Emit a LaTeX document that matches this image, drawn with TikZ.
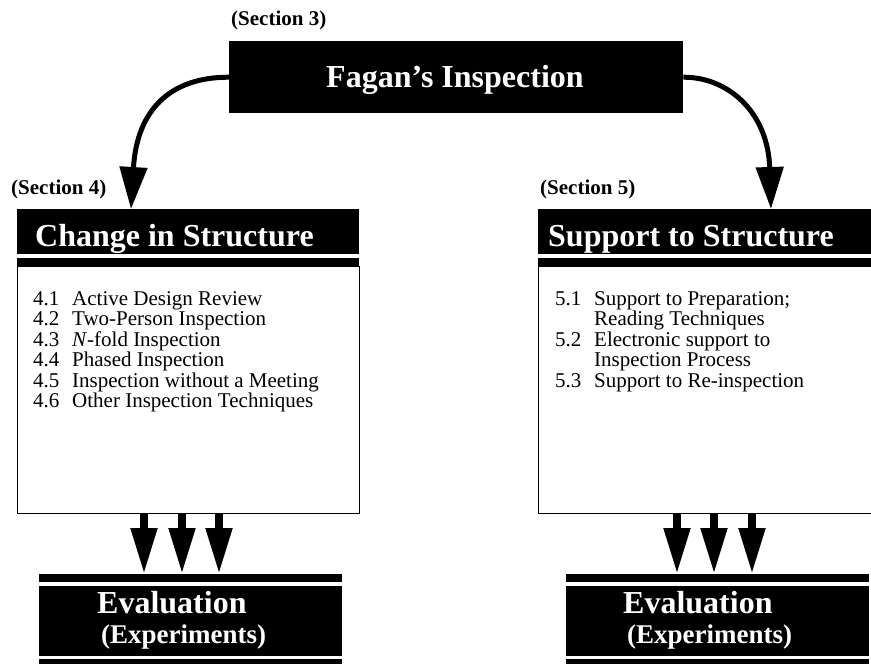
\documentclass[tikz,border=0pt]{standalone}
\usepackage{fontspec}
\setmainfont{Liberation Serif}
\usetikzlibrary{arrows.meta}
\tikzset{
    kasten/.style={fill=black, inner sep=0pt, anchor=north west},
    liste/.style={draw=black, line width=1.2pt, fill=white, inner sep=0pt, anchor=north west},
    titel/.style={text=white, font=\fontsize{32}{36}\selectfont\bfseries, inner sep=0pt, anchor=base west},
    abschnitt/.style={font=\fontsize{21}{24}\selectfont\bfseries, inner sep=0pt, anchor=base west},
    punkt/.style={font=\fontsize{21}{23}\selectfont, inner sep=0pt, anchor=base west},
    bogen/.style={line width=5pt, -{Triangle[length=42pt,width=27pt]}},
    blockpfeil/.style={line width=8pt, -{Triangle[length=46pt,width=25pt]}}
}

\begin{document}
\begin{tikzpicture}[x=1pt, y=-1pt]

  \useasboundingbox (0,0) rectangle (871,664);
  \clip (0,0) rectangle (871,664);

  % Parameter
  \def\bw{342}  % Breite der Spalten
  \def\ew{303}  % Breite Evaluation
  \def\zl{20.5} % Zeilenabstand

  % Fagan
  \node[abschnitt] (sec3) at (231,25) {(Section 3)};
  \node[kasten, minimum width=454pt, minimum height=72pt] (fagan) at (229,41) {};
  \node[titel, anchor=base] (fagantxt) at (455,87) {Fagan’s Inspection};

  % linke Spalte
  \node[abschnitt] (sec4) at (11,194) {(Section 4)};
  \node[kasten, minimum width=\bw pt, minimum height=45pt] (kopfL) at (17,209) {};
  \node[kasten, minimum width=\bw pt, minimum height=8pt] (streifL) at (17,258) {};
  \node[liste, minimum width=\bw pt, minimum height=247pt] (lstL) at (17,266) {};
  \node[titel] (chg) at (35,246) {Change in Structure};
  \foreach \n/\txt [count=\i] in {4.1/{Active Design Review}, 4.2/{Two-Person Inspection},
      4.3/{\textit{N}-fold Inspection}, 4.4/{Phased Inspection},
      4.5/{Inspection without a Meeting}, 4.6/{Other Inspection Techniques}}
    \node[punkt] (pL\i) at (33,{305+\zl*(\i-1)}) {\makebox[39pt][l]{\n}\txt};

  % rechte Spalte
  \node[abschnitt] (sec5) at (540,194) {(Section 5)};
  \node[kasten, minimum width=\bw pt, minimum height=45pt] (kopfR) at (538,209) {};
  \node[kasten, minimum width=\bw pt, minimum height=8pt] (streifR) at (538,258) {};
  \node[liste, minimum width=\bw pt, minimum height=247pt] (lstR) at (538,266) {};
  \node[titel] (sup) at (548,246) {Support to Structure};
  \foreach \n/\txt [count=\i] in {5.1/{Support to Preparation;}, /{Reading Techniques},
      5.2/{Electronic support to}, /{Inspection Process}, 5.3/{Support to Re-inspection}}
    \node[punkt] (pR\i) at (555,{305+\zl*(\i-1)}) {\makebox[39pt][l]{\n}\txt};

  % Evaluation links
  \node[kasten, minimum width=\ew pt, minimum height=8pt] (evoL) at (39,574) {};
  \node[kasten, minimum width=\ew pt, minimum height=70pt] (evL) at (39,586) {};
  \node[kasten, minimum width=\ew pt, minimum height=8pt] (evuL) at (39,659) {};
  \node[titel] (evtL) at (97,613) {Evaluation};
  \node[titel, font=\fontsize{27}{30}\selectfont\bfseries] (expL) at (101,643) {(Experiments)};

  % Evaluation rechts
  \node[kasten, minimum width=\ew pt, minimum height=8pt] (evoR) at (566,574) {};
  \node[kasten, minimum width=\ew pt, minimum height=70pt] (evR) at (566,586) {};
  \node[kasten, minimum width=\ew pt, minimum height=8pt] (evuR) at (566,659) {};
  \node[titel] (evtR) at (623,613) {Evaluation};
  \node[titel, font=\fontsize{27}{30}\selectfont\bfseries] (expR) at (627,643) {(Experiments)};

  % Boegen
  \coordinate (spitzeL) at (131,209);
  \coordinate (spitzeR) at (771,209);
  \draw[bogen] (fagan.west) .. controls (172,77) and (137,108) .. (spitzeL);
  \draw[bogen] (fagan.east) .. controls (728,77) and (768,112) .. (spitzeR);

  % Pfeile nach unten
  \foreach \x in {144,182,219}
    \draw[blockpfeil] (\x,0 |- lstL.south) -- (\x,0 |- evoL.north);
  \foreach \x in {677,714,752}
    \draw[blockpfeil] (\x,0 |- lstR.south) -- (\x,0 |- evoR.north);

\end{tikzpicture}
\end{document}
